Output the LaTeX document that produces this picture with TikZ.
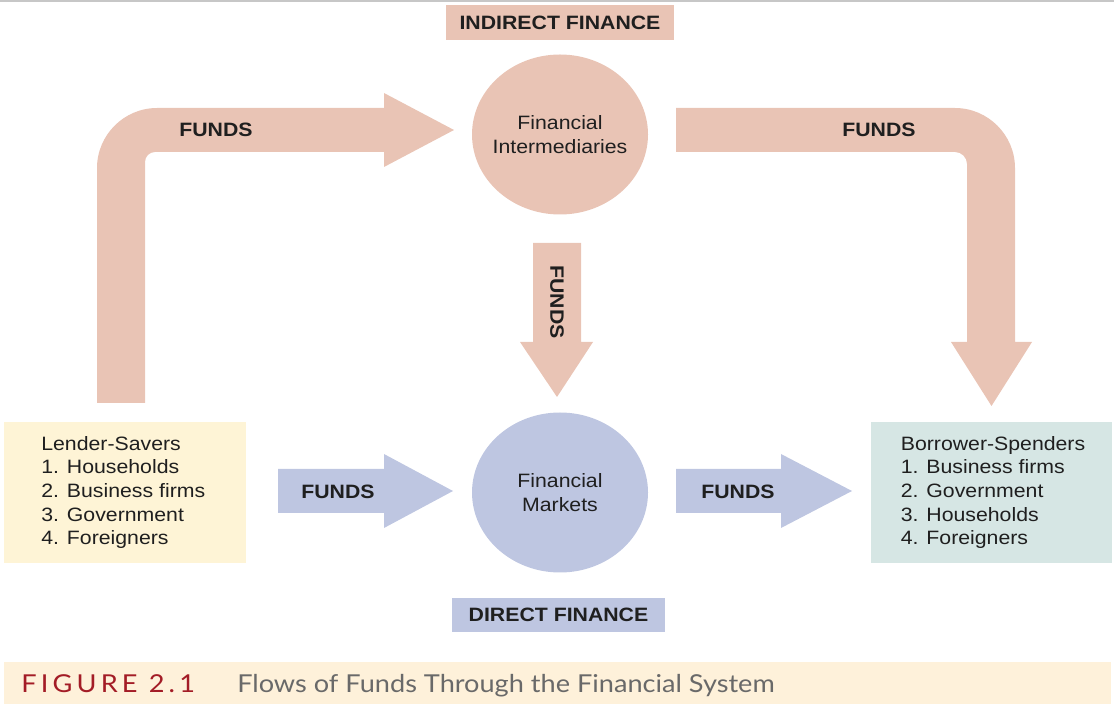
\documentclass[tikz,border=0pt]{standalone}
\usepackage{fontspec}
\setmainfont[FakeStretch=1.1]{Liberation Sans}
\newfontfamily\capfont[FakeStretch=1.1]{Lato}
\newfontfamily\figfont[FakeStretch=1.1,LetterSpace=17]{Lato}
\usepackage{tikz}
\usetikzlibrary{shapes.geometric,positioning}
\definecolor{fundsred}{RGB}{233,196,181}
\definecolor{fundsblue}{RGB}{190,198,225}
\definecolor{lendbg}{RGB}{254,244,214}
\definecolor{borrbg}{RGB}{214,230,228}
\definecolor{capbg}{RGB}{254,241,218}
\definecolor{figred}{RGB}{163,28,38}
\definecolor{capgray}{RGB}{105,105,105}
\tikzset{
  tag/.style={font=\fontsize{14.5}{17}\selectfont\bfseries,text=black!88,inner sep=0pt},
  headbox/.style={tag,minimum height=26pt},
  market/.style={ellipse,inner sep=0pt,inner xsep=-25pt,minimum width=132pt,minimum height=120pt,
    align=center,font=\fontsize{14.5}{18}\selectfont,text=black!88},
  sector/.style={inner sep=0pt,minimum width=181pt,minimum height=105.75pt},
  list/.style={inner sep=0pt,align=left,font=\fontsize{14.5}{17.7}\selectfont,text=black!88}
}

\begin{document}
\begin{tikzpicture}[x=0.75pt,y=-0.75pt]
\useasboundingbox (0,0) rectangle (1114,705);
\draw[black!22,line width=1.2pt](0,1)--(1114,1);
%% indirect finance
\node[headbox,fill=fundsred,minimum width=171pt] (indirect) at (560,22.5) {INDIRECT FINANCE};
\node[market,fill=fundsred] (intermediaries) at (560,134.5) {Financial\\Intermediaries};
\fill[fundsred](97,403)--(97,168) .. controls (97,135) and (124,108) .. (157,108)
  --(384,108)--(384,93)--(454,130)--(384,167)--(384,152)--(155,152)
  .. controls (149.5,152) and (145,156.5) .. (145,162)--(145,403)--cycle;
\fill[fundsred](676,108)--(955,108) .. controls (988,108) and (1015,135) .. (1015,168)
  --(1015,342)--(1032,342)--(991.5,406)--(951,342)--(967,342)--(967,164)
  .. controls (967,157.4) and (961.6,152) .. (955,152)--(676,152)--cycle;
\fill[fundsred](533,243)--(581,243)--(581,342)--(593,342)--(557,397)--(520,342)--(533,342)--cycle;
\node[tag] (fundsA) at (216,130) {FUNDS};
\node[tag] (fundsB) at (879,130) {FUNDS};
\node[tag,rotate=-90] (fundsC) at (557,302) {FUNDS};
%% direct finance
\node[market,fill=fundsblue] (markets) at (560,492.5) {Financial\\Markets};
\node[headbox,fill=fundsblue,minimum width=159.75pt] (direct) at (558.5,615) {DIRECT FINANCE};
\fill[fundsblue](278,469)--(384,469)--(384,454)--(453,491)--(384,528)--(384,513)--(278,513)--cycle;
\fill[fundsblue](676,469)--(781,469)--(781,454)--(852,491)--(781,528)--(781,513)--(676,513)--cycle;
\node[tag] (fundsD) at (338,492) {FUNDS};
\node[tag] (fundsE) at (738,492) {FUNDS};
%% sectors
\node[sector,fill=lendbg] (lender) at (125,492.5) {};
\node[list,right=27.75pt of lender.west] (lenderlist) {Lender-Savers\\1. Households\\2. Business firms\\3. Government\\4. Foreigners};
\node[sector,fill=borrbg] (borrower) at (991.5,492.5) {};
\node[list,right=22.5pt of borrower.west] (borrowerlist) {Borrower-Spenders\\1. Business firms\\2. Government\\3. Households\\4. Foreigners};
%% caption
\node[fill=capbg,inner sep=0pt,minimum width=830.25pt,minimum height=31.5pt] (caption) at (557.5,683) {};
\node[anchor=base west,inner sep=0pt,font=\figfont\fontsize{18.5}{20}\selectfont,text=figred] (fignum) at (21,692) {FIGURE 2.1};
\node[anchor=base west,inner sep=0pt,font=\capfont\fontsize{18.5}{20}\selectfont,text=capgray] (figtitle) at (237,692) {Flows of Funds Through the Financial System};
\end{tikzpicture}
\end{document}
